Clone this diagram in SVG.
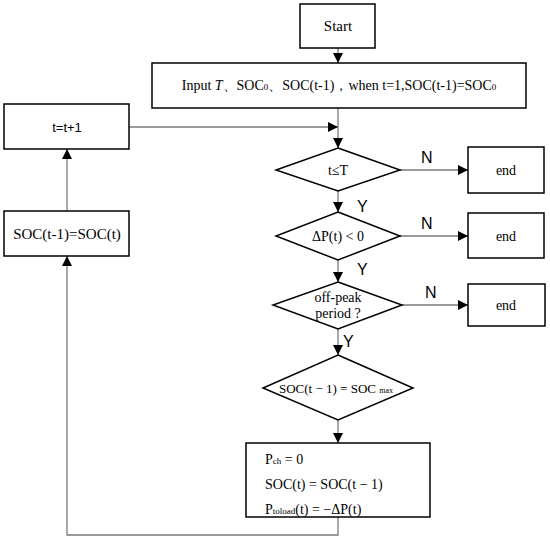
<svg xmlns="http://www.w3.org/2000/svg" width="550" height="541" viewBox="0 0 550 541">
<style>
.box{fill:#fff;stroke:#000;stroke-width:1.5}
.ln{fill:none;stroke:#7a7a7a;stroke-width:1.3}
.t{font-family:"Liberation Serif",serif;font-size:14px;fill:#000;text-anchor:middle}
.big{font-size:15px}
.l{font-family:"Liberation Serif",serif;font-size:14px;fill:#000;text-anchor:start}
.lab{font-family:"Liberation Sans",sans-serif;font-size:16px;fill:#000}
.sans{font-family:"Liberation Sans",sans-serif;font-size:13px;fill:#000;text-anchor:middle}
</style>
<defs>
<marker id="ah" viewBox="0 0 10 10" refX="10" refY="5" markerWidth="10" markerHeight="10" markerUnits="userSpaceOnUse" orient="auto">
<path d="M0,0 L10,5 L0,10 z" fill="#000"/>
</marker>
</defs>
<rect width="550" height="541" fill="#fff"/>
<g id="connectors">
<line class="ln" x1="338" y1="48" x2="338" y2="63" marker-end="url(#ah)"/>
<line class="ln" x1="338" y1="108" x2="338" y2="148" marker-end="url(#ah)"/>
<line class="ln" x1="129" y1="127" x2="338" y2="127" marker-end="url(#ah)"/>
<line class="ln" x1="338" y1="191" x2="338" y2="212" marker-end="url(#ah)"/>
<line class="ln" x1="338" y1="260" x2="338" y2="282" marker-end="url(#ah)"/>
<line class="ln" x1="338" y1="329" x2="338" y2="355" marker-end="url(#ah)"/>
<line class="ln" x1="338" y1="420" x2="338" y2="443" marker-end="url(#ah)"/>
<line class="ln" x1="400" y1="170" x2="468" y2="170" marker-end="url(#ah)"/>
<line class="ln" x1="400" y1="236" x2="468" y2="236" marker-end="url(#ah)"/>
<line class="ln" x1="402" y1="305" x2="468" y2="305" marker-end="url(#ah)"/>
<polyline class="ln" points="338,517 338,535 67,535 67,256" marker-end="url(#ah)"/>
<line class="ln" x1="67" y1="211" x2="67" y2="149" marker-end="url(#ah)"/>
<text class="lab" x="421" y="163">N</text>
<text class="lab" x="421" y="229">N</text>
<text class="lab" x="425" y="298">N</text>
<text class="lab" x="357" y="212">Y</text>
<text class="lab" x="357" y="275">Y</text>
<text class="lab" x="343" y="347">Y</text>
</g>
<g id="start">
<rect class="box" x="300" y="4" width="75" height="44"/>
<text class="t" x="338" y="31" style="font-size:15px">Start</text>
</g>
<g id="input">
<rect class="box" x="152" y="63" width="374" height="45"/>
<text class="t" x="339" y="90">Input <tspan font-style="italic">T</tspan>、SOC<tspan font-size="9">0</tspan>、SOC(t-1)，when t=1,SOC(t-1)=SOC<tspan font-size="9">0</tspan></text>
</g>
<g id="inc">
<rect class="box" x="4" y="104" width="125" height="45"/>
<text class="sans" x="67" y="132">t=t+1</text>
</g>
<g id="update">
<rect class="box" x="4" y="211" width="125" height="45"/>
<text class="t big" x="67" y="239">SOC(t-1)=SOC(t)</text>
</g>
<g id="d1">
<polygon class="box" points="338,148 400,170 338,191 276,170"/>
<text class="t" x="338" y="175">t≤T</text>
</g>
<g id="e1">
<rect class="box" x="468" y="147" width="76" height="46"/>
<text class="t" x="506" y="175">end</text>
</g>
<g id="d2">
<polygon class="box" points="338,212 400,236 338,260 276,236"/>
<text class="t" x="338" y="241">ΔP(t) &lt; 0</text>
</g>
<g id="e2">
<rect class="box" x="468" y="213" width="76" height="45"/>
<text class="t" x="506" y="241">end</text>
</g>
<g id="d3">
<polygon class="box" points="338,282 402,305 338,329 273,305"/>
<text class="t" x="338" y="302">off-peak</text>
<text class="t" x="338" y="318">period ?</text>
</g>
<g id="e3">
<rect class="box" x="468" y="284" width="77" height="42"/>
<text class="t" x="506" y="310">end</text>
</g>
<g id="d4">
<polygon class="box" points="338,355 413,388 338,420 263,388"/>
<text class="t" x="336" y="393" style="font-size:13px">SOC(t − 1) = SOC <tspan font-size="8">max</tspan></text>
</g>
<g id="action">
<rect class="box" x="246" y="443" width="184" height="74"/>
<text class="l" x="265" y="464">P<tspan font-size="9">ch</tspan> = 0</text>
<text class="l" x="265" y="489">SOC(t) = SOC(t − 1)</text>
<text class="l" x="265" y="514">P<tspan font-size="9">toload</tspan>(t) = −ΔP(t)</text>
</g>
</svg>
